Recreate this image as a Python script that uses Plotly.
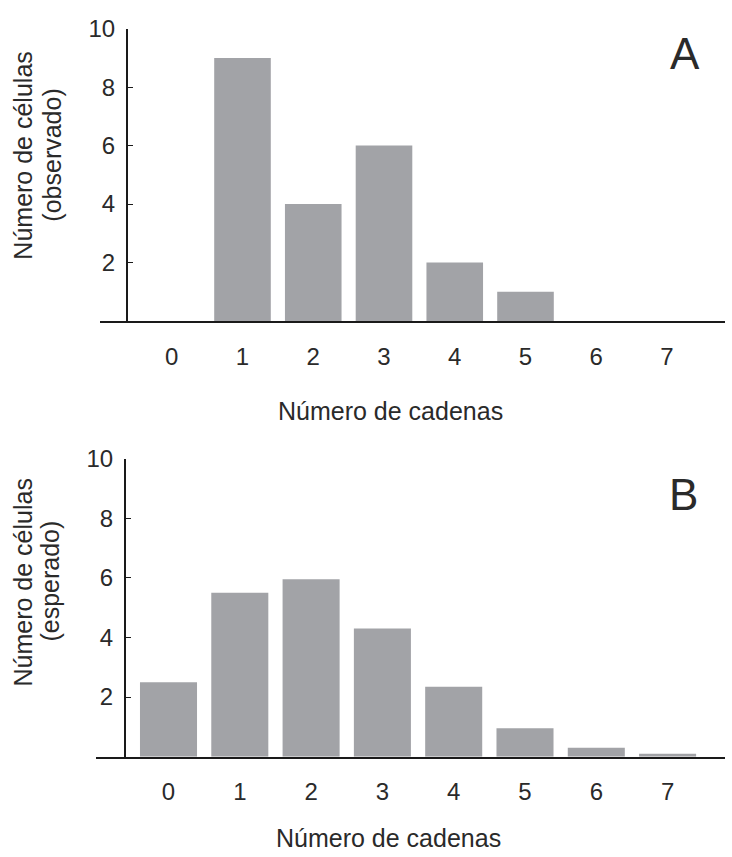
import plotly.graph_objects as go

W, H = 732, 857

categorias = [0, 1, 2, 3, 4, 5, 6, 7]
observado = [0, 9, 4, 6, 2, 1, 0, 0]
esperado = [2.5, 5.5, 5.95, 4.3, 2.35, 0.95, 0.3, 0.1]
yticks = [2, 4, 6, 8, 10]
xtitle = "Número de cadenas"
ytitle_l1 = "Número de células"
ytitle_a2 = "(observado)"
ytitle_b2 = "(esperado)"

FONT = "Liberation Sans, Arial, Helvetica, sans-serif"
BAR = "#a2a3a7"
AX = "#1a1a1a"
TXT = "#2a2a2a"

def px(x):
    return x / W

def py(y):
    return 1 - y / H

fig = go.Figure()
fig.add_trace(go.Bar(x=categorias, y=observado, marker=dict(color=BAR, line=dict(width=0)),
                     width=0.8, xaxis="x", yaxis="y", showlegend=False))
fig.add_trace(go.Bar(x=categorias, y=esperado, marker=dict(color=BAR, line=dict(width=0)),
                     width=0.8, xaxis="x2", yaxis="y2", showlegend=False))

# panel A geometry (pixels)
a_left, a_right, a_c0, a_step = 100, 725, 171.75, 70.75
a_y0, a_y10, a_yax = 312, 15, 127
# panel B geometry
b_left, b_right, b_c0, b_step = 96, 725, 168.5, 71.3
b_y0, b_y10, b_yax = 755, 452, 125

def xaxis_cfg(left, right, c0, step):
    return dict(domain=[px(left), px(right)],
                range=[(left - c0) / step, (right - c0) / step],
                tickvals=categorias, ticktext=[str(c) for c in categorias],
                showline=True, linecolor=AX, linewidth=2, ticks="",
                showgrid=False, zeroline=False, ticklabelstandoff=13,
                tickfont=dict(family=FONT, size=24, color=TXT))

def yaxis_cfg(y0, y10, yax):
    return dict(domain=[py(y0), py(y10)], range=[0, 10], anchor="free",
                position=px(yax),
                tickvals=yticks, showline=True, linecolor=AX, linewidth=2,
                ticks="inside", ticklen=5, tickwidth=1, tickcolor=AX,
                showgrid=False, zeroline=False, ticklabelstandoff=6,
                tickfont=dict(family=FONT, size=24, color=TXT))

xa = xaxis_cfg(a_left, a_right, a_c0, a_step)
xa["anchor"] = "y"
xb = xaxis_cfg(b_left, b_right, b_c0, b_step)
xb["anchor"] = "y2"
ya = yaxis_cfg(a_y0, a_y10, a_yax)
yb = yaxis_cfg(b_y0, b_y10, b_yax)

def ann(text, x, y, size=25, angle=0):
    return dict(text=text, x=px(x), y=py(y), xref="paper", yref="paper", showarrow=False,
                textangle=angle, font=dict(family=FONT, size=size, color=TXT),
                xanchor="center", yanchor="middle")

annotations = [
    ann(xtitle, 390, 404),
    ann(xtitle, 388, 838),
    ann(ytitle_l1, 23, 144, angle=-90),
    ann(ytitle_a2, 52, 144, angle=-90),
    ann(ytitle_l1, 23, 578, angle=-90),
    ann(ytitle_b2, 50, 577, angle=-90),
    ann("A", 685, 40, size=44),
    ann("B", 683, 488, size=44),
]

fig.update_layout(width=W, height=H, margin=dict(l=0, r=0, t=0, b=0),
                  paper_bgcolor="white", plot_bgcolor="white",
                  xaxis=xa, yaxis=ya, xaxis2=xb, yaxis2=yb,
                  annotations=annotations, bargap=0.2)

fig.write_html("out.html", config={"displayModeBar": False},
               post_script="document.body.style.margin='0';")
